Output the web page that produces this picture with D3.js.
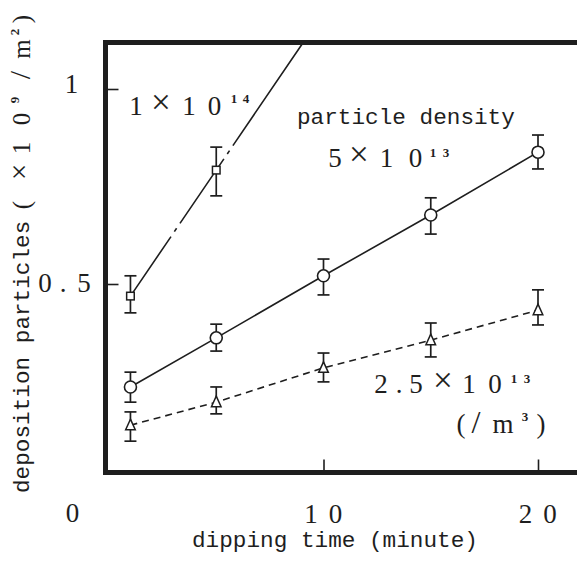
<!DOCTYPE html>
<html>
<head>
<meta charset="utf-8">
<script src="https://cdn.jsdelivr.net/npm/d3@7"></script>
<style>
  html, body { margin: 0; padding: 0; background: #fff; }
  svg { display: block; }
</style>
</head>
<body>
<script>
// ---------- data ----------
const times = [1, 5, 10, 15, 20];
const mid = [0.236, 0.362, 0.521, 0.677, 0.838];      // 5x10^13 (circles)
const midUpper = [0.274, 0.397, 0.564, 0.721, 0.882];
const midLower = [0.197, 0.328, 0.472, 0.628, 0.795];
const low = [0.138, 0.197, 0.285, 0.356, 0.433];      // 2.5x10^13 (triangles)
const lowUpper = [0.172, 0.236, 0.323, 0.400, 0.485];
const lowLower = [0.097, 0.167, 0.249, 0.313, 0.395];
const highTimes = [1, 5];                              // 1x10^14 (squares)
const high = [0.469, 0.792];
const highUpper = [0.521, 0.851];
const highLower = [0.426, 0.726];
const xTicks = [10, 20];
const yTicks = [0.5, 1];

const W = 577, H = 566;
const ink = "#1e1e1e";
const serif = "'Liberation Serif', 'DejaVu Serif', serif";
const mono = "'Liberation Mono', 'DejaVu Sans Mono', monospace";

const svg = d3.select("body").append("svg").attr("width", W).attr("height", H);

const x = d3.scaleLinear([0, 20], [109, 538]);
const y = d3.scaleLinear([0, 1], [479, 89]);

// frame geometry (layout)
const fL = 105.5, fT = 42.5, fB = 472.5, fR = W + 20;

// ---------- frame ----------
svg.append("path")
  .attr("d", `M${fR},${fT}H${fL}V${fB}H${fR}`)
  .attr("fill", "none").attr("stroke", ink).attr("stroke-width", 5)
  .attr("stroke-linejoin", "miter");

// ticks (inward)
const yAxis = d3.axisLeft(y).tickValues(yTicks).tickSize(-11).tickFormat("");
const gy = svg.append("g").attr("transform", `translate(${fL + 2},0)`).call(yAxis);
gy.select(".domain").remove();
gy.selectAll("line").attr("stroke", ink).attr("stroke-width", 1.6);

const xAxis = d3.axisBottom(x).tickValues(xTicks).tickSize(-11).tickFormat("");
const gx = svg.append("g").attr("transform", `translate(0,${fB - 2})`).call(xAxis);
gx.select(".domain").remove();
gx.selectAll("line").attr("stroke", ink).attr("stroke-width", 1.6);

// helper: one glyph centred at cx on a baseline
function put(parent, c, cx, baseline, size, bold, timesScale) {
  let s = size, b = baseline;
  if (c === "×") { s = size * (timesScale || 1.3); b = baseline - 1; }
  if (c === "/") { s = size * 1.2; }
  return parent.append("text")
    .attr("x", cx).attr("y", b)
    .attr("text-anchor", "middle")
    .attr("font-family", serif)
    .attr("font-size", s)
    .attr("font-weight", bold ? "bold" : "normal")
    .attr("fill", ink)
    .text(c);
}
function seq(parent, chars, centers, baseline, size, bold, timesScale) {
  chars.forEach((c, i) => put(parent, c, centers[i], baseline, size, bold, timesScale));
}
const D = 27;   // digit size
const S = 13;   // superscript size

// ---------- tick labels ----------
seq(svg, ["1"], [71.5], y(1) + 4, D);
seq(svg, ["0", ".", "5"], [45, 63, 84], y(0.5) + 8, D);
seq(svg, ["0"], [x(0) - 36.5], 522, D);
xTicks.forEach(v => {
  seq(svg, String(v).split(""), [x(v) - 12.5, x(v) + 12], 523, D);
});

// ---------- axis titles ----------
svg.append("text")
  .attr("x", 192).attr("y", 547)
  .attr("font-family", mono).attr("font-size", 22.7)
  .attr("fill", ink)
  .text("dipping time (minute)");

const yt = svg.append("g").attr("transform", "translate(29,493) rotate(-90)");
yt.append("text")
  .attr("x", 0).attr("y", 0)
  .attr("font-family", mono).attr("font-size", 22.7)
  .attr("fill", ink)
  .text("deposition particles");
seq(yt, ["(", "×", "1", "0"], [288, 321, 345, 374], 1, 25, false, 1.15);
seq(yt, ["9"], [393], -10, S, true);
seq(yt, ["/", "m"], [418, 444], 1, 25);
seq(yt, ["2"], [461], -10, S, true);
seq(yt, [")"], [474], 1, 25);

// ---------- series lines ----------
const line = d3.line().x(d => x(d[0])).y(d => y(d[1]));

svg.append("path")
  .datum(times.map((t, i) => [t, mid[i]]))
  .attr("d", line)
  .attr("fill", "none").attr("stroke", ink).attr("stroke-width", 1.6);

svg.append("path")
  .datum(times.map((t, i) => [t, low[i]]))
  .attr("d", line)
  .attr("fill", "none").attr("stroke", ink).attr("stroke-width", 1.6)
  .attr("stroke-dasharray", "7,5");

const slope = (high[1] - high[0]) / (highTimes[1] - highTimes[0]);
const yTopVal = y.invert(fT + 2);
const xEnd = highTimes[0] + (yTopVal - high[0]) / slope;
svg.append("path")
  .datum([[highTimes[0], high[0]], [xEnd, yTopVal]])
  .attr("d", line)
  .attr("fill", "none").attr("stroke", ink).attr("stroke-width", 1.6)
  .attr("stroke-dasharray", "72,6,4,6,78,6,4,6,400");

// ---------- error bars ----------
function errorBars(ts, up, lo) {
  const g = svg.append("g").attr("stroke", ink).attr("stroke-width", 1.7);
  ts.forEach((t, i) => {
    const cx = x(t);
    g.append("line").attr("x1", cx).attr("x2", cx).attr("y1", y(up[i])).attr("y2", y(lo[i]));
    g.append("line").attr("x1", cx - 6).attr("x2", cx + 6).attr("y1", y(up[i])).attr("y2", y(up[i]));
    g.append("line").attr("x1", cx - 6).attr("x2", cx + 6).attr("y1", y(lo[i])).attr("y2", y(lo[i]));
  });
}
errorBars(times, midUpper, midLower);
errorBars(times, lowUpper, lowLower);
errorBars(highTimes, highUpper, highLower);

// ---------- markers ----------
svg.append("g").selectAll("circle")
  .data(times.map((t, i) => [t, mid[i]]))
  .join("circle")
  .attr("cx", d => x(d[0])).attr("cy", d => y(d[1])).attr("r", 6)
  .attr("fill", "#fff").attr("stroke", ink).attr("stroke-width", 1.6);

svg.append("g").selectAll("path")
  .data(times.map((t, i) => [t, low[i]]))
  .join("path")
  .attr("d", d => {
    const cx = x(d[0]), cy = y(d[1]);
    return `M${cx},${cy - 6}L${cx + 4.8},${cy + 4.5}L${cx - 4.8},${cy + 4.5}Z`;
  })
  .attr("fill", "#fff").attr("stroke", ink).attr("stroke-width", 1.5);

svg.append("g").selectAll("rect")
  .data(highTimes.map((t, i) => [t, high[i]]))
  .join("rect")
  .attr("x", d => x(d[0]) - 3.8).attr("y", d => y(d[1]) - 3.8)
  .attr("width", 7.6).attr("height", 7.6)
  .attr("fill", "#fff").attr("stroke", ink).attr("stroke-width", 1.5);

// ---------- annotations ----------
seq(svg, ["1", "×", "1", "0"], [136, 161, 189, 214.5], 115, D);
seq(svg, ["1", "4"], [234, 246], 103, S, true);

svg.append("text")
  .attr("x", 297).attr("y", 124)
  .attr("font-family", mono).attr("font-size", 22.7)
  .attr("fill", ink)
  .text("particle density");

seq(svg, ["5", "×", "1", "0"], [335, 359, 386.5, 415.5], 167, D);
seq(svg, ["1", "3"], [433, 446], 157, S, true);

seq(svg, ["2", ".", "5", "×", "1", "0"], [381, 399, 416, 443, 469, 495], 393, D);
seq(svg, ["1", "3"], [514, 527], 383, S, true);

seq(svg, ["(", "/", "m"], [461, 476, 503], 433, D);
seq(svg, ["3"], [525], 421, S, true);
seq(svg, [")"], [541], 433, D);
</script>
</body>
</html>
